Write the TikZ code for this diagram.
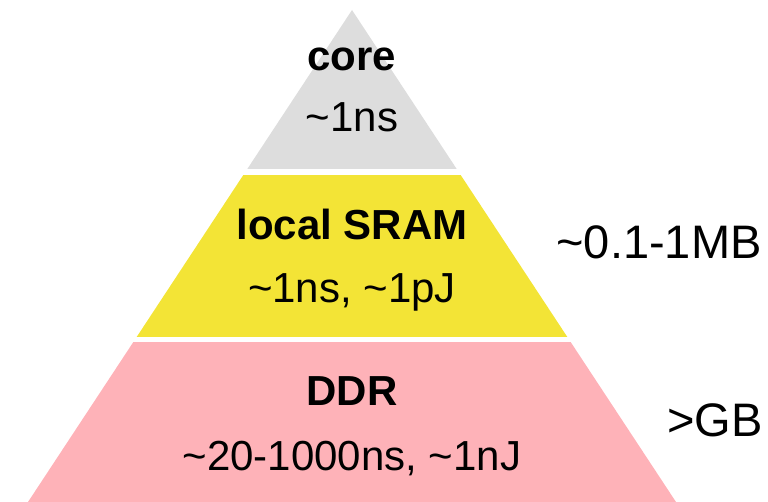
\documentclass[tikz,border=0pt]{standalone}
\usepackage{fontspec}
\setmainfont{Liberation Sans}
\definecolor{coregray}{HTML}{DDDDDD}
\definecolor{sramyellow}{HTML}{F3E436}
\definecolor{ddrpink}{HTML}{FEB2B8}
\tikzset{
  lvl/.style={anchor=base, inner sep=0pt, font=\fontsize{42}{50}\selectfont},
  lvlbold/.style={lvl, font=\fontsize{42}{50}\selectfont\bfseries},
  side/.style={anchor=base, inner sep=0pt, font=\fontsize{47}{56}\selectfont},
}
\begin{document}
\begin{tikzpicture}[x=1pt, y=-1pt]
  \useasboundingbox (0,0) rectangle (768,502);
  % pyramid, cut into three bands with white gaps between them
  \begin{scope}
    \clip (352,10) -- (676,502) -- (28,502) -- cycle;
    \fill[coregray]   (0,0)     rectangle (768,169.5);
    \fill[sramyellow] (0,175)   rectangle (768,336.7);
    \fill[ddrpink]    (0,342)   rectangle (768,502);
  \end{scope}
  % level labels
  \node[lvlbold] (core)    at (352,71)  {core};
  \node[lvl]     (coret)   at (352,132) {\char"7E 1ns};
  \node[lvlbold] (sram)    at (352,240) {local SRAM};
  \node[lvl]     (sramt)   at (352,303) {\char"7E 1ns, \char"7E 1pJ};
  \node[lvlbold] (ddr)     at (352,405) {DDR};
  \node[lvl]     (ddrt)    at (352,470) {\char"7E 20-1000ns, \char"7E 1nJ};
  % capacities beside the pyramid
  \node[side]    (sramcap) at (659,259) {\char"7E 0.1-1MB};
  \node[side]    (ddrcap)  at (715,436) {>GB};
\end{tikzpicture}
\end{document}
